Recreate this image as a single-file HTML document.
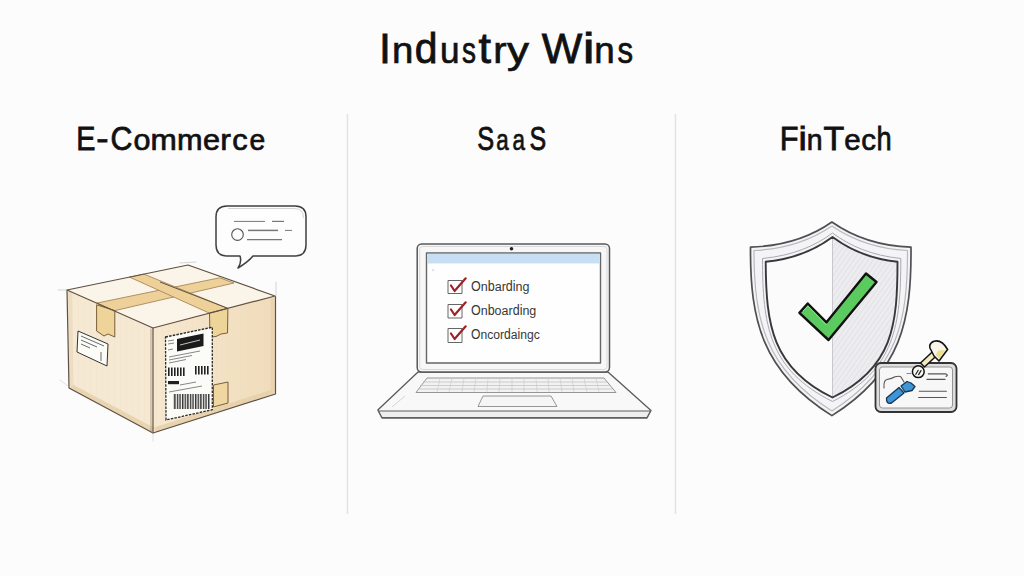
<!DOCTYPE html>
<html><head><meta charset="utf-8"><title>Industry Wins</title>
<style>
html,body{margin:0;padding:0;background:#fcfcfc;}
body{width:1024px;height:576px;overflow:hidden;position:relative;font-family:"Liberation Sans",sans-serif;}
svg{position:absolute;left:0;top:0;display:block;}
</style></head><body>
<svg width="1024" height="576" viewBox="0 0 1024 576" font-family="'Liberation Sans', sans-serif">
<rect width="1024" height="576" fill="#fcfcfc"/>

<!-- dividers -->
<line x1="347.5" y1="114" x2="347.5" y2="514" stroke="#e2e2e2" stroke-width="1.4"/>
<line x1="675.5" y1="114" x2="675.5" y2="514" stroke="#e2e2e2" stroke-width="1.4"/>

<!-- headings -->
<g fill="#111" stroke="#111" stroke-width="0.8">
<text x="378.94" y="63" font-size="42.5" textLength="11.92" lengthAdjust="spacingAndGlyphs">I</text>
<text x="391.95" y="63" font-size="42.5" textLength="21.34" lengthAdjust="spacingAndGlyphs" transform="translate(0,63) scale(1,0.87) translate(0,-63)">n</text>
<text x="414.68" y="63" font-size="42.5" textLength="22.76" lengthAdjust="spacingAndGlyphs">d</text>
<text x="440.12" y="63" font-size="42.5" textLength="19.51" lengthAdjust="spacingAndGlyphs" transform="translate(0,63) scale(1,0.87) translate(0,-63)">u</text>
<text x="462.12" y="63" font-size="42.5" textLength="13.99" lengthAdjust="spacingAndGlyphs" transform="translate(0,63) scale(1,0.87) translate(0,-63)">s</text>
<text x="478.62" y="63" font-size="42.5" textLength="12.51" lengthAdjust="spacingAndGlyphs">t</text>
<text x="493.24" y="63" font-size="42.5" textLength="13.32" lengthAdjust="spacingAndGlyphs" transform="translate(0,63) scale(1,0.87) translate(0,-63)">r</text>
<text x="506.89" y="63" font-size="42.5" textLength="21.99" lengthAdjust="spacingAndGlyphs" transform="translate(0,63) scale(1,0.87) translate(0,-63)">y</text>
<text x="541.71" y="63" font-size="42.5" textLength="40.54" lengthAdjust="spacingAndGlyphs">W</text>
<text x="582.72" y="63" font-size="42.5" textLength="11.88" lengthAdjust="spacingAndGlyphs">i</text>
<text x="594.16" y="63" font-size="42.5" textLength="20.42" lengthAdjust="spacingAndGlyphs" transform="translate(0,63) scale(1,0.87) translate(0,-63)">n</text>
<text x="617.53" y="63" font-size="42.5" textLength="15.60" lengthAdjust="spacingAndGlyphs" transform="translate(0,63) scale(1,0.87) translate(0,-63)">s</text>
<text x="76.14" y="150" font-size="33.5" textLength="19.20" lengthAdjust="spacingAndGlyphs">E</text>
<text x="96.16" y="150" font-size="33.5" textLength="12.28" lengthAdjust="spacingAndGlyphs">-</text>
<text x="110.46" y="150" font-size="33.5" textLength="21.89" lengthAdjust="spacingAndGlyphs">C</text>
<text x="133.62" y="150" font-size="33.5" textLength="16.96" lengthAdjust="spacingAndGlyphs" transform="translate(0,150) scale(1,0.87) translate(0,-150)">o</text>
<text x="150.61" y="150" font-size="33.5" textLength="26.27" lengthAdjust="spacingAndGlyphs" transform="translate(0,150) scale(1,0.87) translate(0,-150)">m</text>
<text x="177.06" y="150" font-size="33.5" textLength="25.56" lengthAdjust="spacingAndGlyphs" transform="translate(0,150) scale(1,0.87) translate(0,-150)">m</text>
<text x="203.00" y="150" font-size="33.5" textLength="17.07" lengthAdjust="spacingAndGlyphs" transform="translate(0,150) scale(1,0.87) translate(0,-150)">e</text>
<text x="220.38" y="150" font-size="33.5" textLength="10.66" lengthAdjust="spacingAndGlyphs" transform="translate(0,150) scale(1,0.87) translate(0,-150)">r</text>
<text x="232.29" y="150" font-size="33.5" textLength="15.42" lengthAdjust="spacingAndGlyphs" transform="translate(0,150) scale(1,0.87) translate(0,-150)">c</text>
<text x="249.40" y="150" font-size="33.5" textLength="15.76" lengthAdjust="spacingAndGlyphs" transform="translate(0,150) scale(1,0.87) translate(0,-150)">e</text>
<text x="477.15" y="150" font-size="33.5" textLength="16.92" lengthAdjust="spacingAndGlyphs">S</text>
<text x="496.25" y="150" font-size="33.5" textLength="12.45" lengthAdjust="spacingAndGlyphs" transform="translate(0,150) scale(1,0.87) translate(0,-150)">a</text>
<text x="512.55" y="150" font-size="33.5" textLength="12.45" lengthAdjust="spacingAndGlyphs" transform="translate(0,150) scale(1,0.87) translate(0,-150)">a</text>
<text x="529.46" y="150" font-size="33.5" textLength="16.68" lengthAdjust="spacingAndGlyphs">S</text>
<text x="779.78" y="150" font-size="33.5" textLength="18.75" lengthAdjust="spacingAndGlyphs">F</text>
<text x="798.49" y="150" font-size="33.5" textLength="8.34" lengthAdjust="spacingAndGlyphs">i</text>
<text x="806.71" y="150" font-size="33.5" textLength="15.84" lengthAdjust="spacingAndGlyphs" transform="translate(0,150) scale(1,0.87) translate(0,-150)">n</text>
<text x="823.64" y="150" font-size="33.5" textLength="20.74" lengthAdjust="spacingAndGlyphs">T</text>
<text x="844.24" y="150" font-size="33.5" textLength="16.47" lengthAdjust="spacingAndGlyphs" transform="translate(0,150) scale(1,0.87) translate(0,-150)">e</text>
<text x="861.25" y="150" font-size="33.5" textLength="14.73" lengthAdjust="spacingAndGlyphs" transform="translate(0,150) scale(1,0.87) translate(0,-150)">c</text>
<text x="876.51" y="150" font-size="33.5" textLength="15.16" lengthAdjust="spacingAndGlyphs">h</text>
</g>

<!-- ============ BOX ============ -->
<defs>
  <pattern id="bars" width="3" height="10" patternUnits="userSpaceOnUse">
    <rect width="1.6" height="10" fill="#222"/>
  </pattern>
  <pattern id="bars2" width="2.6" height="10" patternUnits="userSpaceOnUse">
    <rect width="1.4" height="10" fill="#333"/>
  </pattern>
  <linearGradient id="rface" x1="0" y1="0" x2="1" y2="0">
    <stop offset="0" stop-color="#f6e8d1"/>
    <stop offset="1" stop-color="#f0dcba"/>
  </linearGradient>
  <pattern id="grain" width="6" height="10" patternUnits="userSpaceOnUse">
    <rect width="0.8" height="10" fill="#e9d8bc" opacity="0.35"/>
  </pattern>
</defs>
<g id="box" stroke-linejoin="round">
  <!-- faces -->
  <polygon points="67,290 153,328 153,433 69,388" fill="#f6e9d4"/>
  <polygon points="153,328 275,296 275,394 153,433" fill="url(#rface)"/>
  <polygon points="67,290 188,265 275,296 153,328" fill="#fbf4e8"/>
  <path d="M71,386.5 L153,430" stroke="#e6cfa8" stroke-width="5" opacity="0.8"/>
  <path d="M70,292 L71.5,386" stroke="#ecdcc0" stroke-width="4" opacity="0.8"/>
  <path d="M155,430 L273,392" stroke="#e6cfa8" stroke-width="5" opacity="0.8"/>
  <path d="M272.5,298 L272.5,392" stroke="#e8d3ae" stroke-width="4" opacity="0.8"/>
  <polygon points="67,290 153,328 153,433 69,388" fill="url(#grain)"/>
  <polygon points="153,328 275,296 275,394 153,433" fill="url(#grain)"/>
  <!-- tape strip 1 (left-front edge to right-back edge) -->
  <polygon points="96.7,303.1 219.6,277.8 234,283 114,310.8" fill="#eed198" stroke="#a8875a" stroke-width="0.9"/>
  <!-- tape strip 2 -->
  <polygon points="129.5,277.1 143.8,274.1 227.9,308.4 209.5,313.2" fill="#eed198" stroke="#a8875a" stroke-width="0.9"/>
  <line x1="160" y1="282" x2="227.9" y2="308.4" stroke="#5f5142" stroke-width="1"/>
  <!-- flaps -->
  <polygon points="96.6,304.8 114.8,310.6 114.8,337 108,334 104,336 96.6,331" fill="#efd49a" stroke="#7a5f3a" stroke-width="1"/>
  <polygon points="209.5,313.2 227.9,308.4 227.5,333 221,334 216,336.5 210,337" fill="#efd49a" stroke="#7a5f3a" stroke-width="1"/>
  <polygon points="213.5,385 228,382 228,403 213.5,407" fill="#f0d6a0" stroke="#7a5f3a" stroke-width="1"/>
  <!-- edges -->
  <g fill="none" stroke="#5f5142" stroke-width="1.2" stroke-linecap="round">
    <path d="M67,290 L188,265 L275,296 L153,328 Z"/>
    <path d="M67,290 L69,388 L153,433 L275.5,394 L275.5,296.5"/>
    <path d="M153,328 L153,433"/>
    <path d="M151,329 L151,432" stroke-width="0.6" stroke="#8a7a66"/>
    <path d="M58,290 L67,290" stroke-width="0.6" stroke="#bbb"/>
    <path d="M276,282 L276,296" stroke-width="0.6" stroke="#bbb"/>
    <path d="M60,380 L68,386" stroke-width="0.6" stroke="#ccc"/>
    <path d="M153,433 L153,441" stroke-width="0.6" stroke="#ccc"/>
    <path d="M180,263 L196,262" stroke-width="0.6" stroke="#bbb"/>
  </g>
  <!-- shipping label -->
  <polygon points="165.5,337 212.3,327.3 212.3,409.7 166,420" fill="#fbfbf8" stroke="#2a2a2a" stroke-width="1.3" stroke-dasharray="2.5,1.2"/>
  <polygon points="177,339 203.5,333.5 203.5,346 177,351.5" fill="#1b1b1b"/>
  <g stroke="#eee" stroke-width="0.8"><line x1="180" y1="345" x2="200" y2="340"/></g>
  <g stroke="#555" stroke-width="0.7">
    <line x1="168" y1="341" x2="174" y2="340"/>
    <line x1="168" y1="344" x2="174" y2="343"/>
    <line x1="168" y1="350" x2="173" y2="349"/>
    <line x1="169" y1="357" x2="200" y2="351"/>
    <line x1="169" y1="360" x2="192" y2="355.5"/>
    <line x1="169" y1="363" x2="186" y2="359.5"/>
    <line x1="180" y1="385" x2="196" y2="382"/>
    <line x1="169" y1="392" x2="202" y2="386"/>
  </g>
  <rect x="168" y="367.5" width="17.5" height="8.5" fill="url(#bars)"/>
  <rect x="194" y="366" width="16" height="8.5" fill="url(#bars)"/>
  <rect x="168" y="381" width="11" height="3.2" fill="#222"/>
  <rect x="173" y="394" width="37" height="15" fill="url(#bars2)"/>
  <!-- small left label -->
  <polygon points="78,331 108,344 107,366 77,352" fill="#fbfbf8" stroke="#333" stroke-width="1"/>
  <g stroke="#444" stroke-width="0.8">
    <line x1="81" y1="336" x2="104" y2="346"/>
    <line x1="81" y1="340" x2="97" y2="347"/>
    <line x1="81" y1="344" x2="90" y2="348"/>
    <line x1="101" y1="352" x2="101" y2="361"/>
  </g>
</g>

<!-- speech bubble -->
<g fill="none" stroke="#3f3f3f" stroke-width="1.5" stroke-linejoin="round">
  <path d="M227,206 H295 Q306,206 306,217 V245 Q306,256 295,256 H253 Q248,262 238,268 Q242,262 240,256 H227 Q216,256 216,245 V217 Q216,206 227,206 Z" fill="#fdfdfd"/>
  <path d="M228,208.5 H294 Q303.5,208.5 303.5,218" stroke="#c8c8c8" stroke-width="0.8"/>
  <circle cx="237.5" cy="234.6" r="5.8" stroke="#555" stroke-width="1.1"/>
  <g stroke="#777">
  <line x1="234" y1="221.4" x2="265" y2="221.4" stroke-width="1"/>
  <line x1="272" y1="221.4" x2="284" y2="221.4" stroke-width="1.2"/>
  <line x1="248" y1="230.4" x2="278" y2="230.4" stroke-width="1.5"/>
  <line x1="285" y1="230.4" x2="292" y2="230.4" stroke-width="1"/>
  <line x1="247" y1="239.7" x2="282" y2="239.7" stroke-width="1.3"/>
  </g>
</g>

<!-- ============ LAPTOP ============ -->
<g id="laptop" stroke-linejoin="round">
  <!-- base -->
  <path d="M418,372 H608 L651,410.5 L647,418 H382 L377.8,410 Z" fill="#f8f8f8" stroke="#5a5a5a" stroke-width="1.3"/>
  <path d="M378.5,411 H650.5 L647,417.5 H382 Z" fill="#eeeeee" stroke="#5f5f5f" stroke-width="1.1"/>
  <path d="M427,378 H604 L616,392.5 H416 Z" fill="#f2f2f2" stroke="#8a8a8a" stroke-width="0.9"/>
  <g stroke="#bdbdbd" stroke-width="0.7">
    <line x1="423" y1="382" x2="607.5" y2="382"/>
    <line x1="420" y1="385.5" x2="610.5" y2="385.5"/>
    <line x1="418" y1="389" x2="613.5" y2="389"/>
  </g>
  <g stroke="#c8c8c8" stroke-width="0.6">
    <path d="M440,378 l-3,14 M452,378 l-3,14 M464,378 l-2,14 M476,378 l-2,14 M488,378 l-1,14 M500,378 l-1,14 M512,378 v14 M524,378 v14 M536,378 l1,14 M548,378 l1,14 M560,378 l2,14 M572,378 l2,14 M584,378 l3,14 M596,378 l3,14"/>
  </g>
  <path d="M483,396 H551 L557,406.5 H478 Z" fill="#f5f5f5" stroke="#8a8a8a" stroke-width="0.9"/>
  <line x1="405" y1="396" x2="392" y2="407" stroke="#ccc" stroke-width="0.8"/>
  <!-- lid -->
  <rect x="417.2" y="244" width="192.3" height="128" rx="4.5" fill="#f7f7f7" stroke="#585858" stroke-width="1.5"/>
  <rect x="419.7" y="246.5" width="187.3" height="123" rx="3" fill="none" stroke="#cfcfcf" stroke-width="0.8"/>
  <rect x="426.5" y="253" width="174" height="110" fill="#fefefe" stroke="#666" stroke-width="1.4"/>
  <rect x="427.3" y="253.8" width="172.4" height="9" fill="#c6dff5"/>
  <line x1="427.3" y1="263" x2="599.7" y2="263" stroke="#b7cde2" stroke-width="0.6"/>
  <circle cx="433" cy="270" r="1.3" fill="#dbe6f2"/>
  <circle cx="511.5" cy="248.8" r="1.8" fill="#222"/>
  <!-- checkboxes -->
  <g fill="#fff" stroke="#666" stroke-width="1">
    <rect x="448" y="280.5" width="14" height="13"/>
    <rect x="448" y="304.5" width="14" height="13.5"/>
    <rect x="448" y="328.5" width="14" height="14"/>
  </g>
  <g fill="none" stroke="#9e2226" stroke-width="2.2" stroke-linecap="round" stroke-linejoin="round">
    <path d="M451,285.5 L454.6,291 L465.7,278.3"/>
    <path d="M451,309.5 L454.6,315 L465.7,302.3"/>
    <path d="M451,333.5 L454.6,339 L465.7,326.3"/>
  </g>
  <g fill="#383838" font-size="14.8">
    <text x="471.00" y="290.8" textLength="9.74" lengthAdjust="spacingAndGlyphs">O</text>
    <text x="480.74" y="290.8" textLength="6.97" lengthAdjust="spacingAndGlyphs" transform="translate(0,290.8) scale(1,0.9) translate(0,-290.8)">n</text>
    <text x="487.71" y="290.8" textLength="6.97" lengthAdjust="spacingAndGlyphs">b</text>
    <text x="494.68" y="290.8" textLength="6.97" lengthAdjust="spacingAndGlyphs" transform="translate(0,290.8) scale(1,0.9) translate(0,-290.8)">a</text>
    <text x="501.64" y="290.8" textLength="4.17" lengthAdjust="spacingAndGlyphs" transform="translate(0,290.8) scale(1,0.9) translate(0,-290.8)">r</text>
    <text x="505.82" y="290.8" textLength="6.97" lengthAdjust="spacingAndGlyphs">d</text>
    <text x="512.78" y="290.8" textLength="2.78" lengthAdjust="spacingAndGlyphs">i</text>
    <text x="515.57" y="290.8" textLength="6.97" lengthAdjust="spacingAndGlyphs" transform="translate(0,290.8) scale(1,0.9) translate(0,-290.8)">n</text>
    <text x="522.53" y="290.8" textLength="6.97" lengthAdjust="spacingAndGlyphs" transform="translate(0,290.8) scale(1,0.9) translate(0,-290.8)">g</text>
    <text x="471.00" y="314.7" textLength="9.72" lengthAdjust="spacingAndGlyphs">O</text>
    <text x="480.72" y="314.7" textLength="6.95" lengthAdjust="spacingAndGlyphs" transform="translate(0,314.7) scale(1,0.9) translate(0,-314.7)">n</text>
    <text x="487.67" y="314.7" textLength="6.95" lengthAdjust="spacingAndGlyphs">b</text>
    <text x="494.62" y="314.7" textLength="6.95" lengthAdjust="spacingAndGlyphs" transform="translate(0,314.7) scale(1,0.9) translate(0,-314.7)">o</text>
    <text x="501.57" y="314.7" textLength="6.95" lengthAdjust="spacingAndGlyphs" transform="translate(0,314.7) scale(1,0.9) translate(0,-314.7)">a</text>
    <text x="508.52" y="314.7" textLength="4.16" lengthAdjust="spacingAndGlyphs" transform="translate(0,314.7) scale(1,0.9) translate(0,-314.7)">r</text>
    <text x="512.68" y="314.7" textLength="6.95" lengthAdjust="spacingAndGlyphs">d</text>
    <text x="519.63" y="314.7" textLength="2.78" lengthAdjust="spacingAndGlyphs">i</text>
    <text x="522.40" y="314.7" textLength="6.95" lengthAdjust="spacingAndGlyphs" transform="translate(0,314.7) scale(1,0.9) translate(0,-314.7)">n</text>
    <text x="529.35" y="314.7" textLength="6.95" lengthAdjust="spacingAndGlyphs" transform="translate(0,314.7) scale(1,0.9) translate(0,-314.7)">g</text>
    <text x="471.00" y="339.4" textLength="9.44" lengthAdjust="spacingAndGlyphs">O</text>
    <text x="480.44" y="339.4" textLength="6.75" lengthAdjust="spacingAndGlyphs" transform="translate(0,339.4) scale(1,0.9) translate(0,-339.4)">n</text>
    <text x="487.19" y="339.4" textLength="6.07" lengthAdjust="spacingAndGlyphs" transform="translate(0,339.4) scale(1,0.9) translate(0,-339.4)">c</text>
    <text x="493.25" y="339.4" textLength="6.75" lengthAdjust="spacingAndGlyphs" transform="translate(0,339.4) scale(1,0.9) translate(0,-339.4)">o</text>
    <text x="500.00" y="339.4" textLength="4.04" lengthAdjust="spacingAndGlyphs" transform="translate(0,339.4) scale(1,0.9) translate(0,-339.4)">r</text>
    <text x="504.04" y="339.4" textLength="6.75" lengthAdjust="spacingAndGlyphs">d</text>
    <text x="510.79" y="339.4" textLength="6.75" lengthAdjust="spacingAndGlyphs" transform="translate(0,339.4) scale(1,0.9) translate(0,-339.4)">a</text>
    <text x="517.54" y="339.4" textLength="2.70" lengthAdjust="spacingAndGlyphs">i</text>
    <text x="520.24" y="339.4" textLength="6.75" lengthAdjust="spacingAndGlyphs" transform="translate(0,339.4) scale(1,0.9) translate(0,-339.4)">n</text>
    <text x="526.98" y="339.4" textLength="6.75" lengthAdjust="spacingAndGlyphs" transform="translate(0,339.4) scale(1,0.9) translate(0,-339.4)">g</text>
    <text x="533.73" y="339.4" textLength="6.07" lengthAdjust="spacingAndGlyphs" transform="translate(0,339.4) scale(1,0.9) translate(0,-339.4)">c</text>
  </g>
</g>

<!-- ============ SHIELD ============ -->
<defs>
  <pattern id="hatch" width="4" height="4" patternUnits="userSpaceOnUse" patternTransform="rotate(35)">
    <rect width="4" height="4" fill="#ededf0"/>
    <rect width="0.8" height="4" fill="#e0e0e4"/>
  </pattern>
  <clipPath id="innerclip">
    <path d="M832.5,237 C815,250 795,259 765.7,261.8 C766,325 772,368 832.5,397.5 C893,368 897.5,325 897.5,261.8 C870,259 850,250 832.5,237 Z"/>
  </clipPath>
</defs>
<g id="shield" stroke-linejoin="round">
  <path d="M831.9,222 C812,236 785,246 750.5,247.2 C750,320 762,372 831.9,415.6 C901.8,372 911.5,320 911,247.2 C878.8,246 851.8,236 831.9,222 Z" fill="#f4f4f6" stroke="#505052" stroke-width="1.7"/>
  <path d="M831.9,226 C812,239.5 787,249 754,250.5 C754,320 765,369 831.9,411" fill="none" stroke="#b8b9be" stroke-width="1.2"/>
  <path d="M831.9,226 C851.8,239.5 876.8,249 907.5,250.5 C907.5,320 898.8,369 831.9,411" fill="none" stroke="#b8b9be" stroke-width="1.2"/>
  <path d="M832.5,237 C815,250 795,259 765.7,261.8 C766,325 772,368 832.5,397.5 C893,368 897.5,325 897.5,261.8 C870,259 850,250 832.5,237 Z" fill="#fbfbfc"/>
  <rect x="832.5" y="230" width="80" height="175" fill="url(#hatch)" clip-path="url(#innerclip)"/>
  <line x1="832.5" y1="238" x2="832.5" y2="397" stroke="#c8c8cc" stroke-width="1"/>
  <path d="M832.5,237 C815,250 795,259 765.7,261.8 C766,325 772,368 832.5,397.5 C893,368 897.5,325 897.5,261.8 C870,259 850,250 832.5,237 Z" fill="none" stroke="#38383a" stroke-width="1.9"/>
  <path d="M832.5,233 C815,246 793,255.5 762.5,258.5 C762.5,325 769,370 832.5,401.5" fill="none" stroke="#a9aab0" stroke-width="1"/>
  <path d="M832.5,233 C850,246 872,255.5 900.8,258.5 C900.8,325 895,370 832.5,401.5" fill="none" stroke="#a9aab0" stroke-width="1"/>
  <!-- check -->
  <path d="M799.4,312.9 L807.7,303.5 L826.5,322.3 L866,273.5 L876.5,282 L828.5,340 Z" fill="#5ccb5f" stroke="#111" stroke-width="2.4"/>
  <path d="M803,311 L808,306 L826.5,325" fill="none" stroke="#8fe08f" stroke-width="1"/>
</g>

<!-- ID card + key -->
<g id="card" stroke-linejoin="round">
  <rect x="875.5" y="363" width="81" height="49" rx="5.5" fill="#dedede" stroke="#333" stroke-width="1.8"/>
  <rect x="879.5" y="367" width="73" height="41" rx="3" fill="#f7f7f7" stroke="#8a8a8a" stroke-width="0.9"/>
  <!-- key -->
  <path d="M920.5,363 L937.5,347 L941.5,351 L924.5,367 Z" fill="#f3ebbf" stroke="#151515" stroke-width="1.5"/>
  <path d="M931.5,351 C928.5,347.5 929,343 934,341.2 C939.5,339.8 944.5,344 947.6,349.5 L939,361 L934,356 Z" fill="#f8f6ea" stroke="#151515" stroke-width="1.6"/>
  <path d="M938,350.5 L945.5,350 L939.5,358.5 L935.5,355 Z" fill="#ece08e"/>
  <circle cx="918.3" cy="371.7" r="5.9" fill="#f6f6f2" stroke="#151515" stroke-width="1.5"/>
  <path d="M915.8,374.3 L918.2,370.3 M918.6,374.6 L921,370.6" stroke="#222" stroke-width="1.2" stroke-linecap="round"/>
  <g stroke="#555" stroke-width="1.1" fill="none" stroke-linecap="round">
    <line x1="907" y1="373.5" x2="911" y2="373.5" stroke="#888"/>
    <path d="M928.3,373.9 H946 L947.5,375.2 L946,376.5"/>
    <line x1="927" y1="379.4" x2="945" y2="379.4"/>
    <line x1="919.3" y1="391.3" x2="946.4" y2="391.3"/>
    <line x1="918.6" y1="397.5" x2="946.4" y2="397.5"/>
    <path d="M884,388 Q883.5,380 887,379.5 Q892,378.5 895,376.7 Q900,375.5 901,377 L904,382"/>
  </g>
  <path d="M886.5,398 L899,387.5 L904,393 L891.5,403 Q886,404.5 886.5,398 Z" fill="#3d96d8" stroke="#1a3553" stroke-width="1.3"/>
  <path d="M901,386 L907,381.5 L911,383 L915,386.5 L912,390.5 L905,392 Z" fill="#3d96d8" stroke="#1a3553" stroke-width="1.3"/>
</g>
</svg>
</body></html>
